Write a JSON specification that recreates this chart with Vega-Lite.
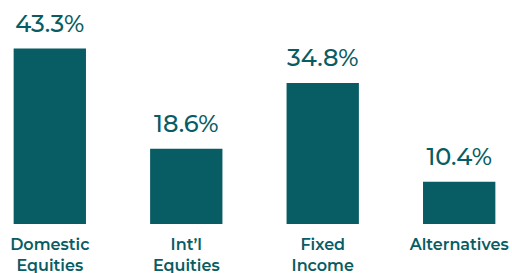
{
  "$schema": "https://vega.github.io/schema/vega-lite/v6.json",
  "autosize": {"type": "none"},
  "padding": {"left": 0, "top": 0, "right": 3, "bottom": 49},
  "width": 509,
  "height": 224,
  "background": "white",
  "data": {"values": [
    {"category": "Domestic Equities", "value": 43.3, "label": "43.3%"},
    {"category": "Int’l Equities", "value": 18.6, "label": "18.6%"},
    {"category": "Fixed Income", "value": 34.8, "label": "34.8%"},
    {"category": "Alternatives", "value": 10.4, "label": "10.4%"}
  ]},
  "encoding": {
    "x": {"field": "category", "type": "nominal", "sort": null,
      "scale": {"paddingInner": 0.47, "paddingOuter": 0.1},
      "axis": {"title": null, "domain": false, "ticks": false, "labelAngle": 0,
        "labelExpr": "split(datum.label, ' ')",
        "labelFont": "Montserrat, Lato, sans-serif", "labelFontSize": 16, "labelFontWeight": 600,
        "labelColor": "#085c63", "labelPadding": 12, "labelLineHeight": 21, "labelBaseline": "top",
        "labelOverlap": false, "labelBound": false}},
    "y": {"field": "value", "type": "quantitative", "scale": {"domain": [0, 55.3]}, "axis": null}
  },
  "layer": [
    {"mark": {"type": "bar", "color": "#085c63"}},
    {"mark": {"type": "text", "baseline": "alphabetic", "dy": -17, "font": "Montserrat, Lato, sans-serif", "fontSize": 24, "fontWeight": 500, "color": "#085c63"},
     "encoding": {"text": {"field": "label", "type": "nominal"}}}
  ],
  "config": {"view": {"stroke": null}}
}
